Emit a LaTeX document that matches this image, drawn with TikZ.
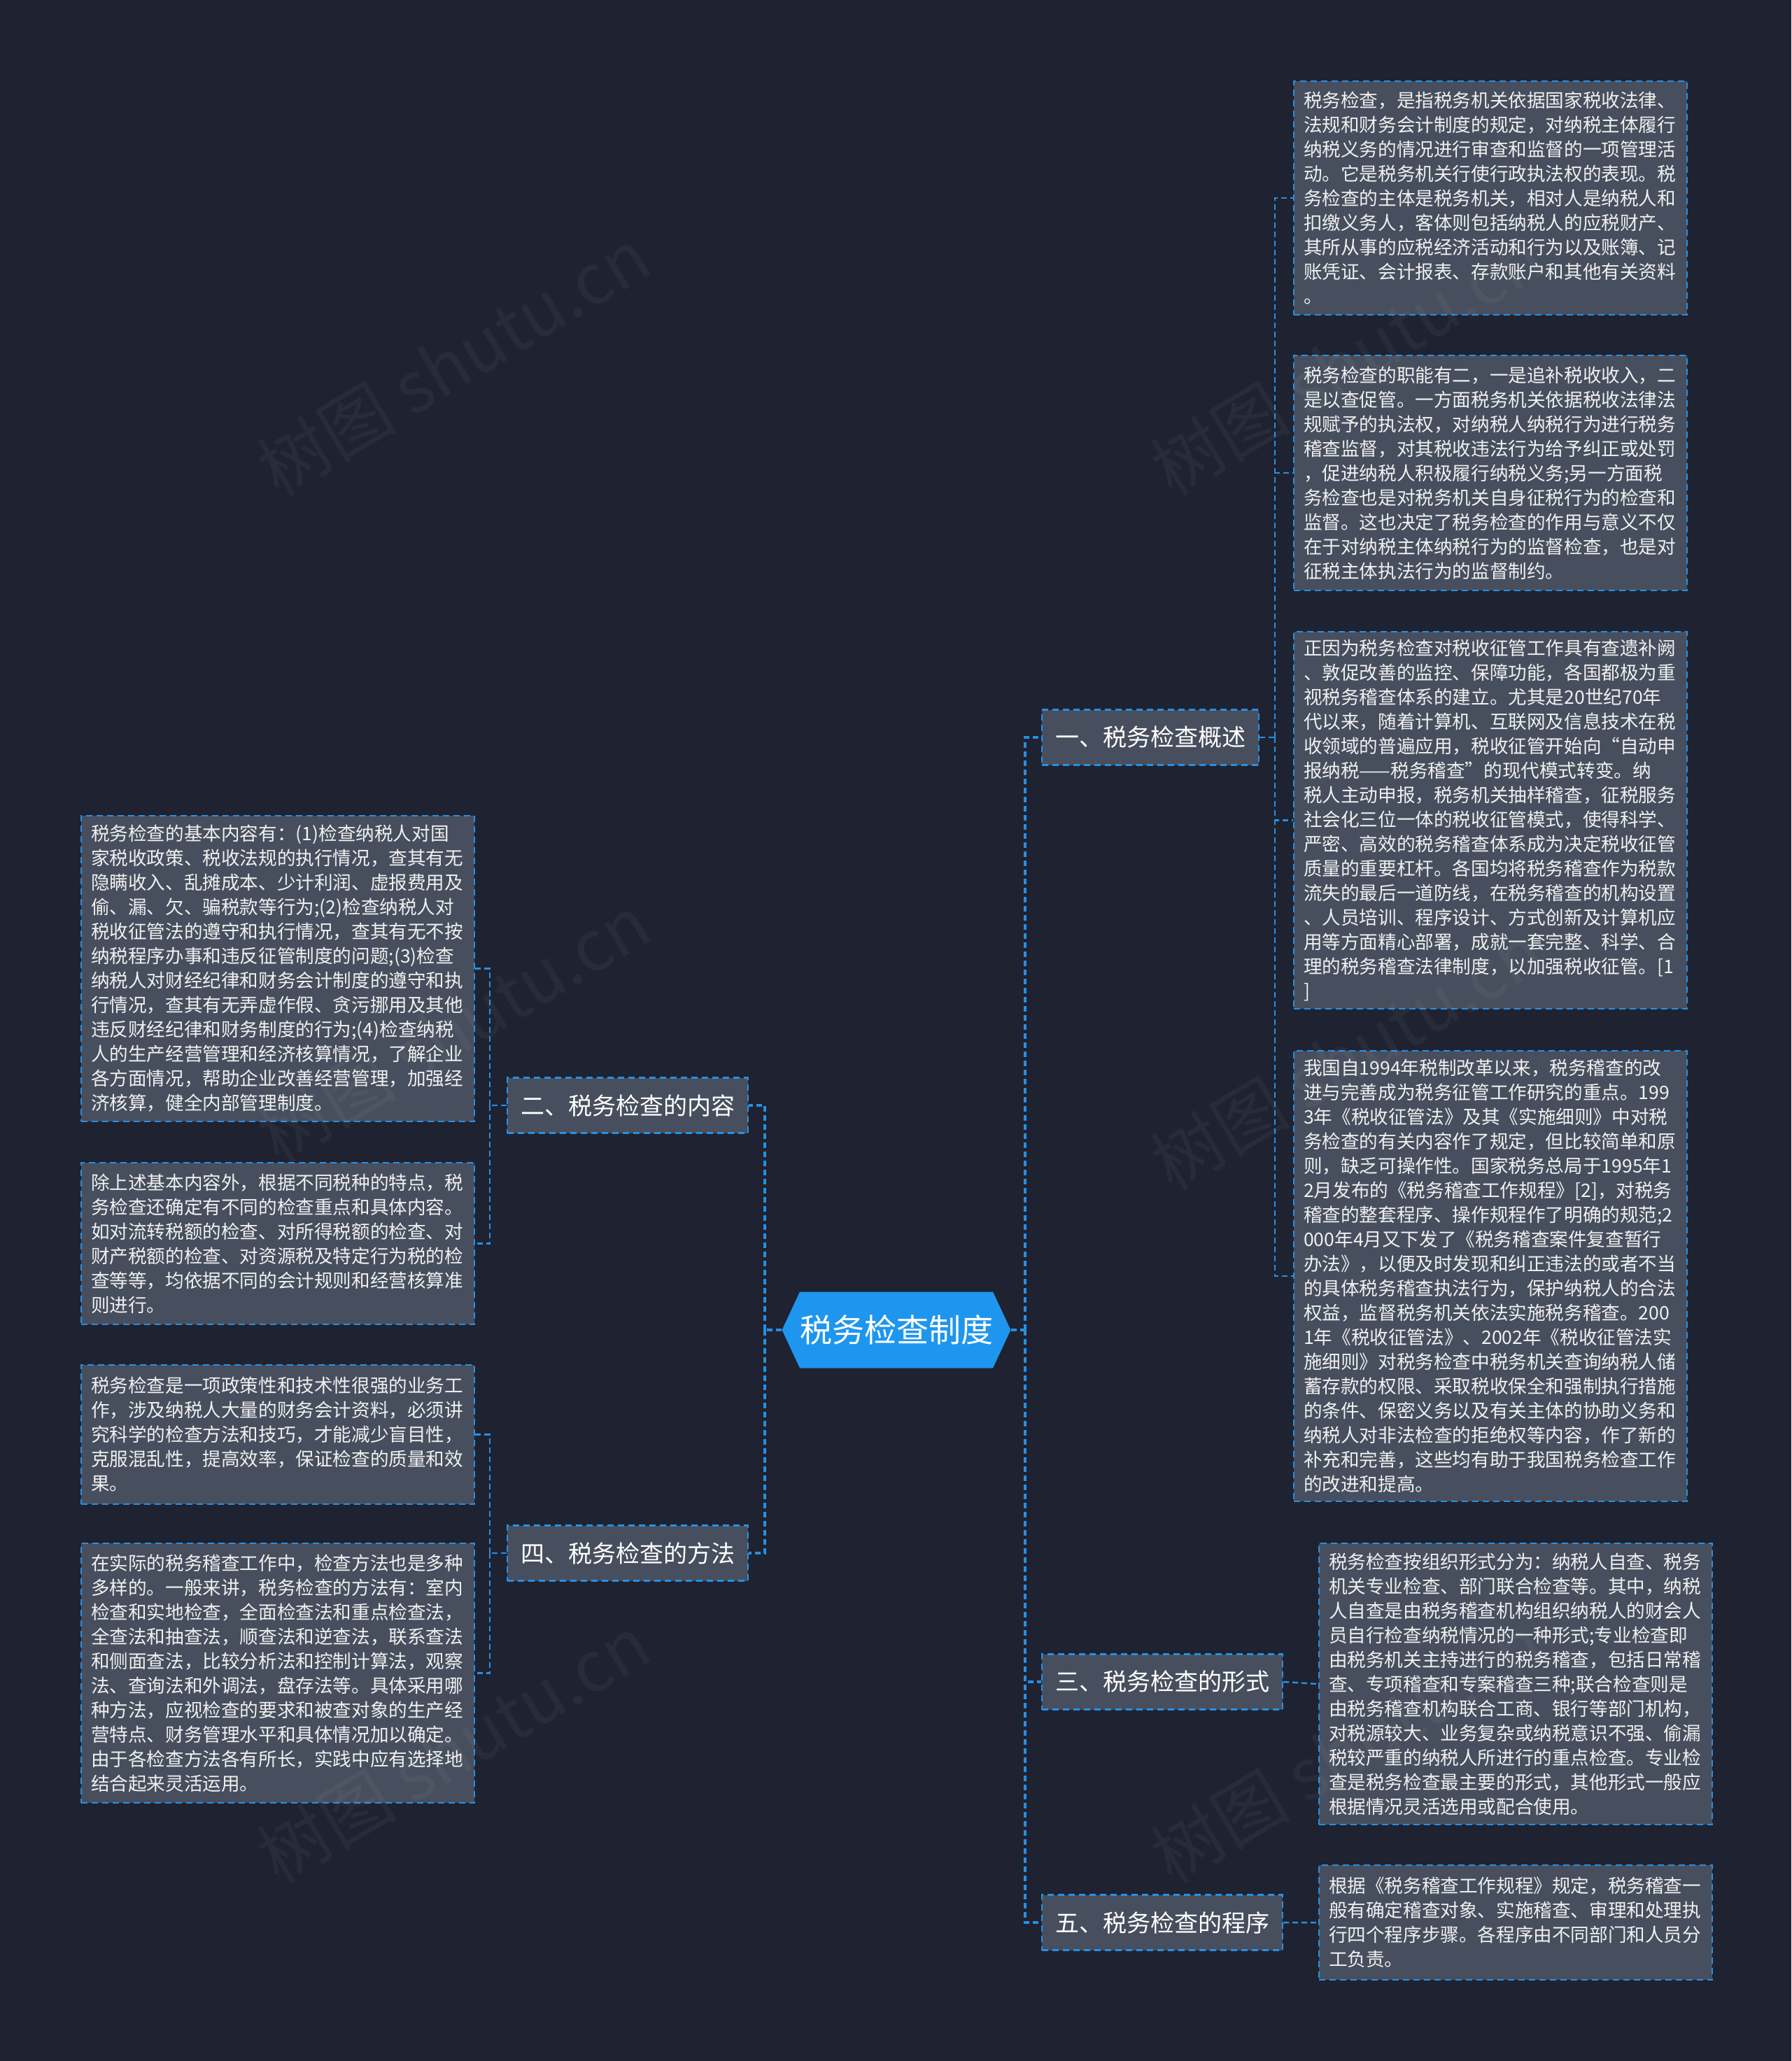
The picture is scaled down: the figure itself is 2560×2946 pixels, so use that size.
\documentclass[tikz,border=0pt]{standalone}
\usepackage{fontspec}
\setmainfont{Noto Sans CJK SC}
\usetikzlibrary{shapes.symbols}
\definecolor{bgc}{HTML}{1F2230}
\definecolor{boxc}{HTML}{474F5E}
\definecolor{linec}{HTML}{2590E6}
\definecolor{rootc}{HTML}{1E96EF}
\definecolor{txtc}{HTML}{F0F0F0}
\tikzset{
 leaf/.style={draw=linec, fill=boxc, line width=2.2pt, dash pattern=on 9pt off 6pt, text=txtc,
   font=\fontsize{26.6}{35}\selectfont, align=left, text width=534pt, inner xsep=14pt, inner ysep=6pt,
   anchor=north west},
 branch/.style={draw=linec, fill=boxc, line width=2.2pt, dash pattern=on 9pt off 6pt, text=white,
   font=\fontsize{34}{40}\selectfont, inner xsep=19pt, inner ysep=0pt, minimum height=79pt},
 conn/.style={draw=linec, line width=2.5pt, dash pattern=on 8pt off 5pt},
 trunk/.style={conn, line width=3.5pt},
 rootst/.style={signal, signal to=west and east, signal pointer angle=130, fill=rootc, text=white,
   font=\fontsize{46}{50}\selectfont, minimum width=320pt, minimum height=109pt, inner sep=0pt},
 wm/.style={text=white, opacity=0.045, font=\fontsize{100}{110}\selectfont, rotate=31}
}
\begin{document}
\begin{tikzpicture}[x=1pt,y=-1pt]
\useasboundingbox (0,0) rectangle (2560,2946);
\fill[bgc] (0,0) rectangle (2560,2946);

% root
\node[rootst] (root) at (1281,1901) {税务检查制度};

% branches
\node[branch] (b1) at (1644,1054) {一、税务检查概述};
\node[branch] (b2) at (897,1580) {二、税务检查的内容};
\node[branch] (b4) at (897,2220) {四、税务检查的方法};
\node[branch] (b3) at (1661,2404) {三、税务检查的形式};
\node[branch] (b5) at (1661,2748) {五、税务检查的程序};

% leaves right
\node[leaf, minimum height=334pt] (r1) at (1848,115) {税务检查，是指税务机关依据国家税收法律、\\
法规和财务会计制度的规定，对纳税主体履行\\
纳税义务的情况进行审查和监督的一项管理活\\
动。它是税务机关行使行政执法权的表现。税\\
务检查的主体是税务机关，相对人是纳税人和\\
扣缴义务人，客体则包括纳税人的应税财产、\\
其所从事的应税经济活动和行为以及账簿、记\\
账凭证、会计报表、存款账户和其他有关资料\\
。};
\node[leaf, minimum height=336pt] (r2) at (1848,507) {税务检查的职能有二，一是追补税收收入，二\\
是以查促管。一方面税务机关依据税收法律法\\
规赋予的执法权，对纳税人纳税行为进行税务\\
稽查监督，对其税收违法行为给予纠正或处罚\\
，促进纳税人积极履行纳税义务;另一方面税\\
务检查也是对税务机关自身征税行为的检查和\\
监督。这也决定了税务检查的作用与意义不仅\\
在于对纳税主体纳税行为的监督检查，也是对\\
征税主体执法行为的监督制约。};
\node[leaf, minimum height=539pt] (r3) at (1848,902) {正因为税务检查对税收征管工作具有查遗补阙\\
、敦促改善的监控、保障功能，各国都极为重\\
视税务稽查体系的建立。尤其是20世纪70年\\
代以来，随着计算机、互联网及信息技术在税\\
收领域的普遍应用，税收征管开始向“自动申\\
报纳税——税务稽查”的现代模式转变。纳\\
税人主动申报，税务机关抽样稽查，征税服务\\
社会化三位一体的税收征管模式，使得科学、\\
严密、高效的税务稽查体系成为决定税收征管\\
质量的重要杠杆。各国均将税务稽查作为税款\\
流失的最后一道防线，在税务稽查的机构设置\\
、人员培训、程序设计、方式创新及计算机应\\
用等方面精心部署，成就一套完整、科学、合\\
理的税务稽查法律制度，以加强税收征管。[1\\
]};
\node[leaf, minimum height=644pt] (r4) at (1848,1501) {我国自1994年税制改革以来，税务稽查的改\\
进与完善成为税务征管工作研究的重点。199\\
3年《税收征管法》及其《实施细则》中对税\\
务检查的有关内容作了规定，但比较简单和原\\
则，缺乏可操作性。国家税务总局于1995年1\\
2月发布的《税务稽查工作规程》[2]，对税务\\
稽查的整套程序、操作规程作了明确的规范;2\\
000年4月又下发了《税务稽查案件复查暂行\\
办法》，以便及时发现和纠正违法的或者不当\\
的具体税务稽查执法行为，保护纳税人的合法\\
权益，监督税务机关依法实施税务稽查。200\\
1年《税收征管法》、2002年《税收征管法实\\
施细则》对税务检查中税务机关查询纳税人储\\
蓄存款的权限、采取税收保全和强制执行措施\\
的条件、保密义务以及有关主体的协助义务和\\
纳税人对非法检查的拒绝权等内容，作了新的\\
补充和完善，这些均有助于我国税务检查工作\\
的改进和提高。};
\node[leaf, minimum height=402pt] (r5) at (1884,2205) {税务检查按组织形式分为：纳税人自查、税务\\
机关专业检查、部门联合检查等。其中，纳税\\
人自查是由税务稽查机构组织纳税人的财会人\\
员自行检查纳税情况的一种形式;专业检查即\\
由税务机关主持进行的税务稽查，包括日常稽\\
查、专项稽查和专案稽查三种;联合检查则是\\
由税务稽查机构联合工商、银行等部门机构，\\
对税源较大、业务复杂或纳税意识不强、偷漏\\
税较严重的纳税人所进行的重点检查。专业检\\
查是税务检查最主要的形式，其他形式一般应\\
根据情况灵活选用或配合使用。};
\node[leaf, minimum height=164pt] (r6) at (1884,2665) {根据《税务稽查工作规程》规定，税务稽查一\\
般有确定稽查对象、实施稽查、审理和处理执\\
行四个程序步骤。各程序由不同部门和人员分\\
工负责。};

% leaves left
\node[leaf, minimum height=437pt] (l1) at (115,1165) {税务检查的基本内容有：(1)检查纳税人对国\\
家税收政策、税收法规的执行情况，查其有无\\
隐瞒收入、乱摊成本、少计利润、虚报费用及\\
偷、漏、欠、骗税款等行为;(2)检查纳税人对\\
税收征管法的遵守和执行情况，查其有无不按\\
纳税程序办事和违反征管制度的问题;(3)检查\\
纳税人对财经纪律和财务会计制度的遵守和执\\
行情况，查其有无弄虚作假、贪污挪用及其他\\
违反财经纪律和财务制度的行为;(4)检查纳税\\
人的生产经营管理和经济核算情况，了解企业\\
各方面情况，帮助企业改善经营管理，加强经\\
济核算，健全内部管理制度。};
\node[leaf, minimum height=231pt] (l2) at (115,1661) {除上述基本内容外，根据不同税种的特点，税\\
务检查还确定有不同的检查重点和具体内容。\\
如对流转税额的检查、对所得税额的检查、对\\
财产税额的检查、对资源税及特定行为税的检\\
查等等，均依据不同的会计规则和经营核算准\\
则进行。};
\node[leaf, minimum height=199pt] (l3) at (115,1950) {税务检查是一项政策性和技术性很强的业务工\\
作，涉及纳税人大量的财务会计资料，必须讲\\
究科学的检查方法和技巧，才能减少盲目性，\\
克服混乱性，提高效率，保证检查的质量和效\\
果。};
\node[leaf, minimum height=371pt] (l4) at (115,2205) {在实际的税务稽查工作中，检查方法也是多种\\
多样的。一般来讲，税务检查的方法有：室内\\
检查和实地检查，全面检查法和重点检查法，\\
全查法和抽查法，顺查法和逆查法，联系查法\\
和侧面查法，比较分析法和控制计算法，观察\\
法、查询法和外调法，盘存法等。具体采用哪\\
种方法，应视检查的要求和被查对象的生产经\\
营特点、财务管理水平和具体情况加以确定。\\
由于各检查方法各有所长，实践中应有选择地\\
结合起来灵活运用。};

% junctions
\coordinate (jr) at (1465,1901);
\coordinate (jl) at (1093,1901);
\coordinate (j1) at (1822,1054);
\coordinate (j2) at (700,1580);
\coordinate (j4) at (700,2220);

% connectors
\draw[trunk] (root.east) -- (jr);
\draw[trunk] (jr) |- (b1.west);
\draw[trunk] (jr) |- (b3.west);
\draw[trunk] (jr) |- (b5.west);
\draw[trunk] (root.west) -- (jl);
\draw[trunk] (jl) |- (b2.east);
\draw[trunk] (jl) |- (b4.east);

\draw[conn] (b1.east) -- (j1);
\draw[conn] (j1) |- (r1.west);
\draw[conn] (j1) |- (r2.west);
\draw[conn] (j1) |- (r3.west);
\draw[conn] (j1) |- (r4.west);
\draw[conn] (b3.east) -- (r5.west);
\draw[conn] (b5.east) -- (r6.west);

\draw[conn] (b2.west) -- (j2);
\draw[conn] (j2) |- (l1.east);
\draw[conn] (j2) |- (l2.east);
\draw[conn] (b4.west) -- (j4);
\draw[conn] (j4) |- (l3.east);
\draw[conn] (j4) |- (l4.east);

% watermarks
\node[wm] (wm1) at (648,517) {树图 shutu.cn};
\node[wm] (wm2) at (1925,517) {树图 shutu.cn};
\node[wm] (wm3) at (648,1470) {树图 shutu.cn};
\node[wm] (wm4) at (1925,1510) {树图 shutu.cn};
\node[wm] (wm5) at (648,2500) {树图 shutu.cn};
\node[wm] (wm6) at (1925,2500) {树图 shutu.cn};
\end{tikzpicture}
\end{document}
